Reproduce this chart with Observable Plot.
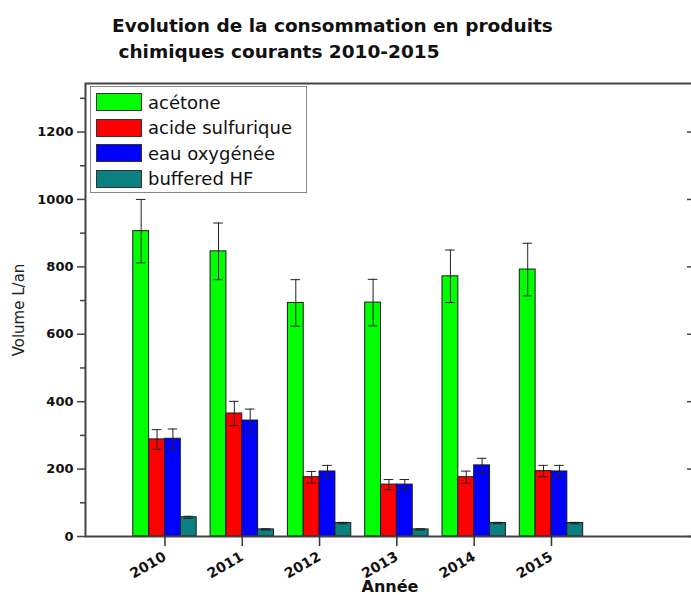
<!DOCTYPE html>
<html><head><meta charset="utf-8">
<script src="https://cdn.jsdelivr.net/npm/d3@7"></script>
<script src="https://cdn.jsdelivr.net/npm/@observablehq/plot@0.6"></script>
<style>
html,body{margin:0;padding:0;background:#fff;overflow:hidden}
#wrap{position:relative;width:691px;height:595px;overflow:hidden;font-family:"DejaVu Sans",sans-serif}
#chart{position:absolute;left:0;top:0}
#chart svg{max-width:none !important}
#title{position:absolute;left:112px;top:13px;font-weight:bold;font-size:18.5px;line-height:26px;white-space:pre;color:#111}
#legend{position:absolute;left:90px;top:86px;width:215px;height:105px;border:1px solid #888;background:#fff}
.row{position:absolute;left:5px;height:18px;display:flex;align-items:center}
.sw{width:44px;height:16px;border:1px solid #333;box-sizing:content-box}
.lab{margin-left:6px;font-size:18px;color:#111;white-space:nowrap}
</style></head>
<body>
<div id="wrap"><div id="chart"></div><div id="title"></div><div id="legend"></div></div>
<script>
// ---- data ----
const titleLines = ["Evolution de la consommation en produits", " chimiques courants 2010-2015"];
const years = [2010, 2011, 2012, 2013, 2014, 2015];
const series = ["acétone", "acide sulfurique", "eau oxygénée", "buffered HF"];
const colors = ["#00ff00", "#ff0000", "#0000ff", "#0a8080"];
const acetone = [906, 846, 693, 694, 772, 792];
const acetoneErr = [94, 84, 69, 69, 78, 78];
const acide = [288, 365, 176, 154, 176, 194];
const acideErr = [29, 36, 17, 15, 18, 17];
const eau = [290, 344, 193, 154, 211, 193];
const eauErr = [29, 34, 18, 15, 21, 18];
const hf = [57, 21, 40, 21, 40, 40];
const hfErr = [3, 2, 2, 2, 2, 2];
const yMajor = [0, 200, 400, 600, 800, 1000, 1200];
const yMinor = [100, 300, 500, 700, 900, 1100, 1300];
const yLabel = "Volume L/an";
const xLabel = "Année";

// ---- layout constants (in data units) ----
const X_DOMAIN = [2008.972, 2016.85];
const Y_MAX = 1344;
const BAR = 0.205;   // width of one bar, in years
const CAP = 0.062;   // half width of error-bar caps, in years

const values = [acetone, acide, eau, hf];
const errors = [acetoneErr, acideErr, eauErr, hfErr];
const rows = years.flatMap((yr, i) => series.map((s, k) => {
  const x1 = yr + (k - 2) * BAR, x2 = x1 + BAR;
  return {year: yr, series: s, value: values[k][i], err: errors[k][i], x1, x2, xc: (x1 + x2) / 2};
}));

const bold = {fontFamily: "DejaVu Sans", fontWeight: "bold", fontSize: 13, fill: "#111"};

const chart = Plot.plot({
  width: 694, height: 595,
  marginTop: 83, marginBottom: 59, marginLeft: 85, marginRight: 0,
  style: {background: "transparent", fontFamily: "DejaVu Sans", color: "#222", maxWidth: "none"},
  x: {type: "linear", domain: X_DOMAIN},
  y: {domain: [0, Y_MAX]},
  color: {domain: series, range: colors},
  marks: [
    Plot.rect(rows, {x1: "x1", x2: "x2", y1: 0, y2: "value", fill: "series", stroke: "#1b1b1b", strokeWidth: 1}),
    Plot.ruleX(rows, {x: "xc", y1: d => d.value - d.err, y2: d => d.value + d.err, stroke: "#222", strokeWidth: 1}),
    Plot.ruleY(rows, {y: d => d.value + d.err, x1: d => d.xc - CAP, x2: d => d.xc + CAP, stroke: "#222", strokeWidth: 1}),
    Plot.ruleY(rows, {y: d => d.value - d.err, x1: d => d.xc - CAP, x2: d => d.xc + CAP, stroke: "#222", strokeWidth: 1}),
    Plot.frame({stroke: "#444", strokeWidth: 2}),
    Plot.axisY({ticks: yMajor, tickSize: 8, tickPadding: 4, tickFormat: d => String(d), label: null, stroke: "#444", strokeWidth: 1.5, ...bold}),
    Plot.axisY({ticks: yMinor, tickSize: 5, tickFormat: () => "", label: null, stroke: "#444", strokeWidth: 1.5}),
    Plot.axisY({anchor: "right", ticks: yMajor, tickSize: -8, tickFormat: () => "", label: null, stroke: "#444", strokeWidth: 1.5}),
    Plot.axisX({ticks: years, tickSize: 10, tickPadding: 9, tickRotate: -30, tickFormat: d => String(d), label: null, stroke: "#333", strokeWidth: 1.5, ...bold, fontSize: 14}),
    Plot.text([yLabel], {text: d => d, frameAnchor: "left", rotate: -90, textAnchor: "middle", dx: -66, fontFamily: "DejaVu Sans", fontSize: 15, fill: "#222"}),
    Plot.text([xLabel], {text: d => d, frameAnchor: "bottom", lineAnchor: "middle", dy: 50, fontFamily: "DejaVu Sans", fontWeight: "bold", fontSize: 16, fill: "#111"})
  ]
});
document.getElementById("chart").appendChild(chart);

// title
const t = document.getElementById("title");
t.textContent = titleLines.join("\n");

// legend
const lg = document.getElementById("legend");
series.forEach((s, k) => {
  const r = document.createElement("div");
  r.className = "row";
  r.style.top = (6 + k * 25.5) + "px";
  const sw = document.createElement("div");
  sw.className = "sw";
  sw.style.background = colors[k];
  const lb = document.createElement("span");
  lb.className = "lab";
  lb.textContent = s;
  r.appendChild(sw); r.appendChild(lb);
  lg.appendChild(r);
});
</script>
</body></html>
